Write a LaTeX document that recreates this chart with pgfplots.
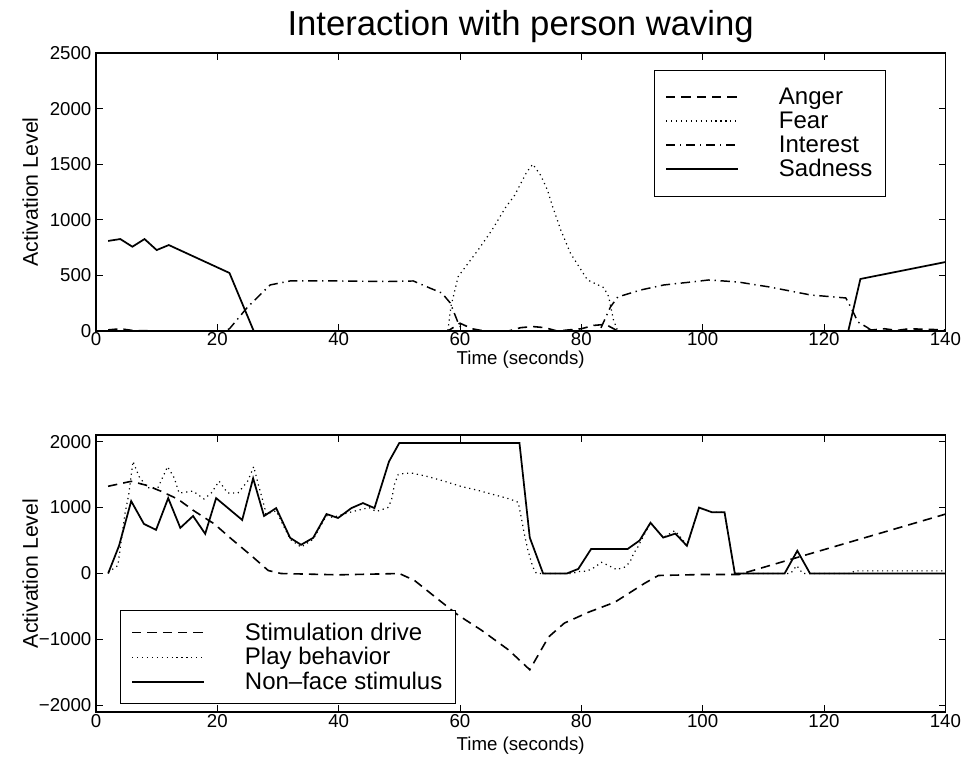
\documentclass[border=0pt]{standalone}
\usepackage{pgfplots}
\pgfplotsset{compat=1.18}
\usepackage{fontspec}
\setmainfont{Liberation Sans}

% MATLAB-like look
\pgfplotsset{
  mlab/.style={
    scale only axis, width=637pt,
    xmin=0, xmax=140, xtick={0,20,...,140},
    tick align=inside, major tick length=5pt,
    axis line style={line width=0.9pt},
    every tick/.style={black, line width=0.6pt},
    tick label style={font=\fontsize{14}{16}\selectfont},
    xticklabel style={yshift=1.5pt},
    label style={font=\fontsize{14}{16}\selectfont},
    /pgf/number format/assume math mode=true,
    /pgf/number format/1000 sep={},
    scaled ticks=false,
    clip=false,
    legend cell align=left,
    legend style={draw=black, line width=0.9pt,
      font=\fontsize{18}{18}\selectfont, inner xsep=8pt, inner ysep=11pt,
      row sep=0pt,
      /tikz/every odd column/.append style={column sep=28pt}},
    legend image code/.code={\draw[##1] (0pt,0pt) -- (54pt,0pt);},
  },
  dashm/.style={black, line width=1.2pt, dash pattern=on 7pt off 4.5pt},
  dotm/.style={black, line width=0.9pt, dash pattern=on 0.9pt off 2.8pt},
  dashdotm/.style={black, line width=1.1pt, dash pattern=on 7pt off 3.5pt on 1pt off 3.5pt},
  solm/.style={black, line width=1.3pt},
}
\tikzset{ylab/.style={rotate=90, anchor=center, font=\fontsize{16}{18}\selectfont}}

\begin{document}
\begin{tikzpicture}
\path[use as bounding box] (0,0) rectangle (720.75pt,-573.75pt);

% ---- top panel
\begin{axis}[mlab,
  at={(72pt,-248.25pt)}, anchor=south west, height=208.5pt,
  ymin=0, ymax=2500, ytick={0,500,...,2500},
  xticklabel style={yshift=1pt},
  title={Interaction with person waving},
  title style={at={(0.5,1)}, anchor=center, yshift=13.5pt, font=\fontsize{26}{26}\selectfont},
  xlabel={Time (seconds)},
  xlabel style={at={(0.5,0)}, anchor=center, yshift=-21.5pt},
  legend style={at={(0.9305,0.939)}, anchor=north east},
]
\addplot[dashm] coordinates {
  (2,10) (4,20) (6,5) (10,0) (20,0) (58,0) (60,70) (62,20) (64,0) (68,0)
  (70,30) (72,40) (74,30) (76,0) (80,20) (82,50) (84,60) (86,0) (126,0)
  (128,10) (130,20) (132,5) (134,20) (140,10)
};
\addplot[dotm] coordinates {
  (2,0) (58,0) (58.5,220) (59.7,490) (63,730) (65.3,910) (67.5,1110) (69,1220)
  (71,1430) (72,1500) (73.3,1400) (74.4,1270) (75.2,1130) (76.6,910) (78.2,700)
  (81,460) (83.7,390) (84.5,310) (85.3,100) (86,0) (140,0)
};
\addplot[dashdotm] coordinates {
  (2,0) (21,0) (22,20) (25,216) (28.7,414) (32,450) (40,450) (48,445) (52.3,450)
  (55,387) (57,342) (58.4,252) (59.7,72) (60.5,0) (83,0) (84.8,216) (86,306)
  (89.8,369) (93.6,414) (98,440) (101,459) (105.8,441) (111,396) (117.8,324)
  (123.6,297) (124.4,216) (125.6,81) (127,36) (128,0) (140,0)
};
\addplot[solm] coordinates {
  (2,810) (4,827) (6,758) (8,827) (10,728) (12,773) (22,522) (26,0) (124,0)
  (126,468) (140,620)
};
\legend{Anger, Fear, Interest, Sadness}
\node[ylab] at (rel axis cs:-0.0775,0.5) {Activation Level};
\end{axis}

% ---- bottom panel
\begin{axis}[mlab,
  at={(72pt,-534pt)}, anchor=south west, height=207.75pt,
  ymin=-2100, ymax=2100, ytick={-2000,-1000,0,1000,2000},
  yticklabels={−2000,−1000,0,1000,2000},
  xlabel={Time (seconds)},
  xlabel style={at={(0.5,0)}, anchor=center, yshift=-25pt},
  legend style={at={(0.0282,0.368)}, anchor=north west, inner ysep=7pt},
]
\addplot[dashm] coordinates {
  (2,1323) (5.8,1398) (8.3,1338) (10.7,1248) (13.5,1128) (16.2,947) (19.5,752)
  (22.3,526) (25.6,271) (28.4,45) (30.5,0) (40,-20) (50,0) (52.5,-105)
  (57,-436) (59.7,-632) (63.5,-857) (68,-1158) (71.5,-1459) (74.6,-962)
  (77.2,-752) (81.2,-586) (85.5,-436) (90.4,-150) (92.7,-30) (100,-15)
  (106,-15) (140,900)
};
\addplot[dotm] coordinates {
  (2,20) (3.6,120) (4.8,920) (5.4,1200) (6.1,1700) (7.1,1470) (8.5,1300)
  (10.2,1300) (11.8,1620) (12.9,1450) (13.7,1220) (16,1250) (17.8,1130)
  (19,1220) (20.3,1400) (21.7,1220) (23.4,1220) (25,1400) (26,1620) (26.7,1370)
  (27.8,1000) (28,900) (29.7,950) (32,520) (33.8,400) (35.8,520) (38,880)
  (39,850) (41.5,920) (45,1000) (46.2,940) (48.1,1000) (48.7,1110) (49.2,1350)
  (49.8,1500) (50.9,1520) (52.2,1520) (54.7,1470) (57.4,1400) (60.2,1320)
  (63,1260) (65.4,1200) (68.2,1130) (69.6,1080) (70.1,850) (70.6,600)
  (71.2,350) (72,100) (72.6,0) (78.4,0) (79.7,30) (80.9,35) (82.2,95)
  (83.3,170) (84.5,120) (85.8,60) (87.1,95) (88,170) (88.6,300) (89.3,400)
  (91.4,770) (93.5,545) (95.4,650) (96.8,500) (97.4,420) (99.4,1000)
  (101.5,930) (103.6,930) (105.3,0) (114.5,0) (115.5,120) (116.5,0)
  (124.5,0) (125,40) (140,40)
};
\addplot[solm] coordinates {
  (2,0) (3.8,421) (5.8,1098) (7.9,752) (9.9,662) (11.9,1143) (13.9,692)
  (16,872) (18,602) (19.8,1143) (24.1,812) (25.9,1444) (27.7,872) (29.7,992)
  (32,541) (33.8,436) (35.8,541) (38,902) (39.9,842) (42.1,992) (44,1068)
  (45.9,992) (48.3,1699) (50,1980) (69.8,1980) (71.5,545) (73.7,0) (77.6,0)
  (79.5,70) (81.6,370) (87.6,370) (89.6,500) (91.4,770) (93.5,545) (95.5,605)
  (97.4,420) (99.4,1000) (101.5,930) (103.6,930) (105.3,0) (113.5,0)
  (115.6,345) (117.7,0) (140,0)
};
\legend{Stimulation drive, Play behavior, Non--face stimulus}
\node[ylab] at (rel axis cs:-0.0775,0.5) {Activation Level};
\end{axis}
\end{tikzpicture}
\end{document}
